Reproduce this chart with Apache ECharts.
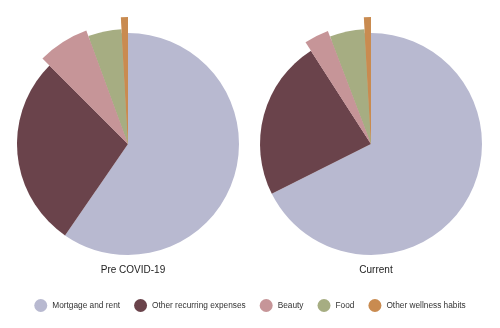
<!DOCTYPE html>
<html>
<head>
<meta charset="utf-8">
<script src="https://cdn.jsdelivr.net/npm/echarts@6/dist/echarts.min.js"></script>
<style>
html,body{margin:0;padding:0;background:#fff;}
#c{width:500px;height:328px;}
</style>
</head>
<body>
<div id="c"></div>
<script>
// ---- data ----
const categories = ['Mortgage and rent', 'Other recurring expenses', 'Beauty', 'Food', 'Other wellness habits'];
const preCovid = [59.6, 27.9, 6.9, 4.7, 0.9];
const current = [67.6, 23.3, 3.3, 4.9, 0.9];
const chartTitles = ['Pre COVID-19', 'Current'];

// ---- style ----
const colors = ['#b8b9d0', '#6a434b', '#c69598', '#a6ad82', '#c98b50'];
const radii = [111, 111, 121, 115, 127];
const centers = [[128, 144], [371, 144]];
const fontFam = '"Liberation Sans", Arial, sans-serif';

function buildSeries(values, center) {
  const out = [];
  const layers = [...new Set(radii)].sort((a, b) => a - b);
  layers.forEach((r, li) => {
    out.push({
      type: 'pie',
      center: center,
      radius: [0, r],
      startAngle: 90,
      clockwise: true,
      silent: true,
      animation: false,
      label: { show: false },
      labelLine: { show: false },
      emphasis: { disabled: true },
      z: 2 + li,
      data: categories.map((name, i) => ({
        name: name,
        value: values[i],
        itemStyle: {
          color: (li === 0 || radii[i] === r) ? colors[i] : 'rgba(0,0,0,0)',
          borderWidth: 0
        }
      }))
    });
  });
  return out;
}

const chart = echarts.init(document.getElementById('c'), null, { renderer: 'canvas' });
chart.setOption({
  backgroundColor: '#ffffff',
  animation: false,
  color: colors,
  title: [
    { text: chartTitles[0], left: centers[0][0], top: 260, textAlign: 'center',
      textStyle: { fontFamily: fontFam, fontSize: 10, fontWeight: 'normal', color: '#222' } },
    { text: chartTitles[1], left: centers[1][0], top: 260, textAlign: 'center',
      textStyle: { fontFamily: fontFam, fontSize: 10, fontWeight: 'normal', color: '#222' } }
  ],
  legend: {
    top: 294,
    left: 'center',
    icon: 'circle',
    itemWidth: 13,
    itemHeight: 13,
    itemGap: 14,
    selectedMode: false,
    textStyle: { fontFamily: fontFam, fontSize: 8.3, color: '#333' },
    data: categories.map((n, i) => ({ name: n, itemStyle: { color: colors[i] } }))
  },
  series: [...buildSeries(preCovid, centers[0]), ...buildSeries(current, centers[1])]
});
</script>
</body>
</html>
